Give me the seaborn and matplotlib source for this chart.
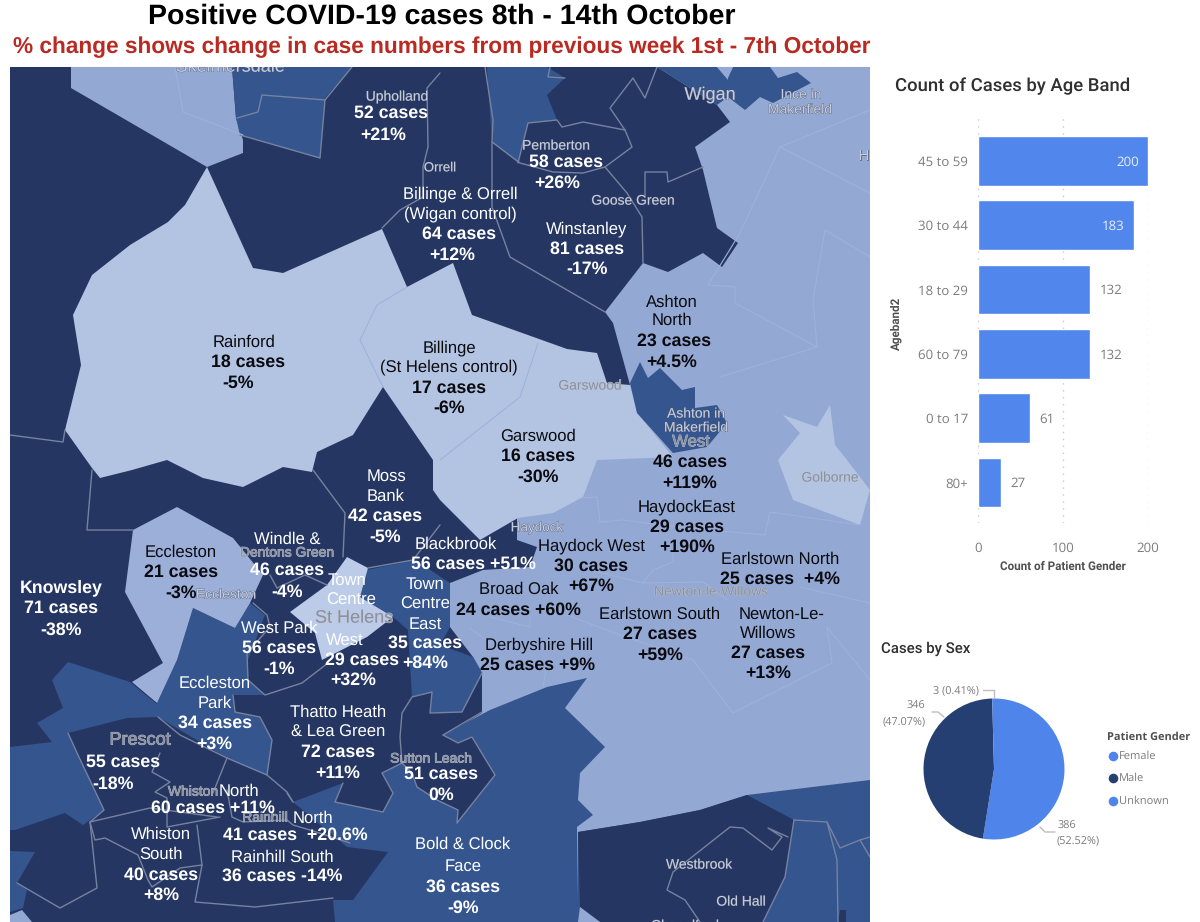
import pandas as pd
import matplotlib.pyplot as plt
import matplotlib.patheffects as pe
import seaborn as sns

# ---------- data ----------
age_bands = ['45 to 59', '30 to 44', '18 to 29', '60 to 79', '0 to 17', '80+']
age_counts = [200, 183, 132, 132, 61, 27]

sex_labels = ['Female', 'Male', 'Unknown']
sex_counts = [386, 346, 3]

# map areas, outline points (pixels)
bg_dark = [(10,67),(657,67),(717,105),(730,122),(695,147),(703,170),(717,228),(738,243),(722,267),(703,253),(668,272),
           (643,263),(605,312),(613,323),(630,385),(517,518),(517,540),(537,547),(530,567),(483,570),(450,583),(450,627),
           (473,657),(482,673),(482,713),(443,737),(440,922),(10,922)]
lightest = [(207,167),(253,268),(283,273),(382,229),(407,287),(453,263),(472,315),(567,349),(597,353),(607,383),(630,385),
            (637,413),(673,457),(597,460),(583,497),(553,513),(518,518),(480,540),(440,500),(433,490),(433,460),(383,387),
            (353,435),(317,452),(312,472),(283,467),(243,487),(203,478),(167,460),(132,470),(100,478),(92,468),(65,430),
            (81,365),(73,315),(92,275),(130,245),(168,222),(185,205)]
golborne = [(778,460),(800,433),(783,415),(817,427),(830,405),(835,445),(847,460),(870,490),(860,525),(793,500)]
town_centre = [(347,557),(368,568),(360,597),(393,617),(367,637),(322,660),(315,633),(290,612),(327,585)]
top_left = [(71,67),(232,67),(236,118),(243,140),(243,153),(207,167),(71,88)]
eccleston = [(132,682),(163,663),(125,592),(133,530),(177,507),(233,538),(263,575),(250,603),(235,628),(193,608),(177,660),(157,703)]
mid_areas = [
    [(232,67),(352,67),(325,98),(320,158),(240,135),(236,118)],
    [(487,67),(547,67),(565,78),(547,95),(557,120),(528,123),(518,163),(492,142)],
    [(657,67),(717,67),(728,80),(728,97),(717,105)],
    [(733,67),(770,67),(778,78),(797,72),(811,83),(773,103),(760,97),(745,110),(728,97),(728,78)],
    [(640,362),(648,378),(660,368),(682,390),(695,387),(695,408),(717,405),(727,423),(707,447),(673,453),(637,413),(630,383)],
    [(193,608),(235,628),(250,603),(265,615),(248,660),(248,680),(265,695),(233,695),(235,712),(260,717),(272,740),(267,775),
     (227,758),(158,717),(157,703),(177,660)],
    [(367,570),(415,560),(450,583),(450,627),(440,645),(473,657),(482,673),(462,712),(430,713),(432,692),(412,697),(408,630),(393,617),(360,597)],
    [(68,662),(130,682),(158,705),(158,717),(127,718),(68,733),(78,755),(90,780),(104,810),(83,825),(65,813),(15,830),(10,830),(10,747),(52,742),(37,723),(63,708),(52,680)],
    [(587,678),(547,687),(490,710),(443,735),(412,773),(402,763),(382,773),(393,793),(383,812),(335,802),(343,783),(293,802),(347,847),(388,852),(353,900),(333,900),(335,922),
     (578,922),(578,900),(577,827),(593,815),(578,800),(580,773),(605,747),(565,708)],
    [(578,832),(640,822),(700,810),(747,795),(870,780),(870,922),(578,922)],
    [(10,851),(35,852),(17,883),(27,890),(23,908),(10,912)],
]
dark_patches = [
    [(443,735),(458,743),(472,737),(495,775),(457,823),(458,810),(437,800),(417,787),(412,773),(402,763),(410,730)],
    [(578,832),(640,822),(700,810),(747,795),(794,820),(785,877),(763,922),(600,922),(580,907)],
    [(840,910),(846,910),(846,922),(838,922)],
]
light_patches = [[(717,67),(733,67),(727,78)], [(580,907),(600,922),(578,922)], [(22,910),(32,922),(10,922),(10,915)]]

# boundary lines
grey_lines = [
    [(10,435),(63,442),(65,430)],
    [(237,118),(258,112),(262,95),(325,100)],
    [(240,135),(320,158),(325,100),(352,67)],
    [(440,73),(427,88),(428,147),(423,167),(423,197),(400,210),(382,228)],
    [(485,67),(493,120),(492,142),(492,207),(510,257),(605,312)],
    [(492,142),(520,163),(553,172),(583,173),(605,167),(632,147),(625,130),(583,122),(562,127),(557,120),(528,123),(518,163)],
    [(605,167),(627,193),(642,217),(643,263)],
    [(645,197),(645,172),(667,172),(668,182),(703,167)],
    [(625,130),(610,108),(633,78),(645,98),(657,67)],
    [(550,67),(548,77),(565,78)],
    [(92,470),(87,530),(133,530)],
    [(313,470),(345,513),(343,557)],
    [(368,568),(413,560),(440,525)],
    [(253,603),(267,615),(270,627),(247,653),(248,680),(265,695),(302,683),(328,663)],
    [(277,588),(305,575),(327,585)],
    [(270,575),(277,588)],
    [(233,695),(235,712),(260,717),(272,740),(267,775),(287,792),(293,802)],
    [(68,733),(78,755),(104,810),(90,822),(150,808),(217,817)],
    [(158,717),(180,735),(227,758),(267,775)],
    [(227,758),(213,793)],
    [(160,753),(152,772),(170,782),(155,792),(167,798),(167,827),(220,817)],
    [(227,790),(232,817),(243,822),(287,820),(293,825),(310,830),(350,843)],
    [(287,793),(293,802)],
    [(90,822),(95,840),(105,838),(138,855),(148,880),(152,887),(180,868),(202,865)],
    [(197,825),(202,865),(195,902),(255,907),(333,898)],
    [(90,822),(97,888),(60,908),(17,883)],
    [(482,673),(462,712),(430,713),(432,692),(412,697),(402,713),(400,737),(402,763)],
    [(443,735),(482,712)],
    [(443,735),(458,743),(472,737),(495,775),(457,823),(458,810),(437,800),(417,787),(412,773),(402,763),(382,773),(393,793),(383,812),(335,802),(343,783)],
    [(794,820),(827,822),(837,860),(838,922)],
    [(794,820),(785,877),(763,922)],
    [(827,822),(840,848),(860,840),(870,837)],
    [(860,840),(870,857)],
    [(700,922),(685,900),(667,890),(673,872),(730,827),(743,828),(772,850),(782,837),(768,828),(788,837)],
]
faint_lines = [
    [(175,67),(183,112),(243,135)],
    [(870,110),(780,147),(740,233),(708,285),(735,287),(735,303),(817,347),(720,377)],
    [(780,147),(870,193)],
    [(870,257),(825,230),(813,300),(817,347)],
    [(583,498),(597,497),(600,522),(622,520),(687,528),(765,535),(770,512),(860,525)],
    [(673,553),(673,562),(653,570),(643,583),(590,570)],
    [(567,615),(620,635),(693,660),(733,713),(832,663),(827,627),(870,680)],
    [(727,600),(703,582),(643,583)],
    [(800,587),(870,603)],
    [(547,663),(543,687)],
    [(490,617),(530,627),(530,617)],
    [(470,628),(490,643)],
    [(538,343),(520,397),(440,460)],
    [(407,287),(377,305),(360,340),(383,387)],
]

# area labels: text, x, y
white_labels = [
    ('52 cases',391,112),('+21%',383,134),('Billinge & Orrell',460,193),('(Wigan control)',460,213),('64 cases',459,233),('+12%',452,254),
    ('58 cases',566,161),('+26%',557,182),('Winstanley',587,228),('81 cases',587,248),('-17%',587,268),
    ('Knowsley',61,587),('71 cases',61,607),('-38%',61,629),('Windle &',287,538),('46 cases',287,569),('-4%',287,591),
    ('Moss',386,475),('Bank',386,495),('42 cases',385,515),('-5%',385,536),
    ('Blackbrook',456,543),('56 cases +51%',473,563),
    ('Town',425,583),('Centre',425,603),('East',425,623),('35 cases',425,642),('+84%',425,662),
    ('Town',347,579),('Centre',351,599),('West',345,639),('29 cases',362,659),('+32%',353,679),
    ('West Park',279,627),('56 cases',279,647),('-1%',279,668),
    ('Eccleston',215,682),('Park',215,702),('34 cases',215,722),('+3%',214,743),
    ('Thatto Heath',338,711),('& Lea Green',338,731),('72 cases',338,751),('+11%',338,772),
    ('55 cases',123,761),('-18%',113,783),('North',239,790),('60 cases +11%',213,807),
    ('North',313,817),('41 cases  +20.6%',295,834),
    ('Whiston',161,833),('South',161,853),('40 cases',161,874),('+8%',161,894),
    ('Rainhill South',282,856),('36 cases -14%',282,875),
    ('51 cases',441,773),('0%',441,794),
    ('Bold & Clock',463,843),('Face',463,865),('36 cases',463,886),('-9%',463,907),
]
black_labels = [
    ('Rainford',244,341),('18 cases',248,361),('-5%',238,382),
    ('Billinge',449,347),('(St Helens control)',449,366),('17 cases',449,387),('-6%',449,407),
    ('Garswood',538,435),('16 cases',538,455),('-30%',538,476),
    ('Ashton',672,301),('North',672,319),('23 cases',674,340),('+4.5%',672,361),
    ('46 cases',690,461),('+119%',690,482),
    ('HaydockEast',687,506),('29 cases',687,526),('+190%',687,546),
    ('Haydock West',591,545),('30 cases',591,565),('+67%',591,585),
    ('Broad Oak',519,588),('24 cases +60%',518,609),
    ('Derbyshire Hill',539,644),('25 cases +9%',538,664),
    ('Earlstown North',780,558),('25 cases  +4%',780,578),
    ('Earlstown South',660,613),('27 cases',660,633),('+59%',660,654),
    ('Newton-Le-',782,613),('Willows',768,632),('27 cases',768,652),('+13%',768,672),
    ('Eccleston',181,551),('21 cases',181,571),('-3%',181,592),
]
# base map place names: text, x, y, size, on a light area or not
place_labels = [
    ('Skelmersdale',230,66,13,False),('Upholland',397,96,10,False),('Orrell',440,167,9.5,False),('Pemberton',556,145,10,False),
    ('Goose Green',633,200,10,False),('Wigan',710,94,13,False),('Ince in',801,94,10,False),('Makerfield',800,109,10,False),
    ('H',864,155,10,False),('Garswood',590,385,10,True),('Ashton in',696,413,10,False),('Makerfield',696,427,10,False),
    ('West',691,441,12,True),('Golborne',830,477,10,True),('Haydock',537,527,9.7,False),('Newton-le-Willows',711,591,10,True),
    ('Dentons Green',287,552,10,True),('Eccleston',226,594,10,False),('St Helens',354,617,13,True),('Prescot',140,739,13,True),
    ('Whiston',193,791,10,True),('Rainhill',265,817,10,True),('Sutton Leach',431,758,10,True),('Westbrook',699,864,10,False),
    ('Old Hall',741,901,10,False),('Chapelford',685,925,10,False),
]

# ---------- figure ----------
sns.set_theme(style='white')
plt.rcParams['font.family'] = ['Liberation Sans', 'DejaVu Sans']
plt.rcParams['text.hinting'] = 'no_hinting'

W, H = 1200, 922
fig = plt.figure(figsize=(W / 100, H / 100), dpi=100)


def px_axes(left, top, right, bottom, **kw):
    return fig.add_axes([left / W, 1 - bottom / H, (right - left) / W, (bottom - top) / H], **kw)


DARK = '#253662'
MID = '#35558f'
LIGHT = '#94a8d4'
LIGHTEST = '#b3c4e3'

fig.text(442 / W, 1 - 16 / H, 'Positive COVID-19 cases 8th - 14th October', ha='center', va='center',
         fontsize=20.5, fontweight='bold', color='black')
fig.text(442 / W, 1 - 47 / H, '% change shows change in case numbers from previous week 1st - 7th October', ha='center',
         va='center', fontsize=16.3, fontweight='bold', color='#b82a22')

# ---------- map ----------
ax_map = px_axes(10, 67, 870, 922)
ax_map.set_xlim(10, 870)
ax_map.set_ylim(922, 67)
ax_map.axis('off')
ax_map.add_patch(plt.Rectangle((10, 67), 860, 855, color=LIGHT, lw=0))


def fill_area(points, colour):
    ax_map.fill([p[0] for p in points], [p[1] for p in points], color=colour, lw=0)


fill_area(bg_dark, DARK)
fill_area(top_left, LIGHT)
fill_area(lightest, LIGHTEST)
fill_area(golborne, LIGHTEST)
for area in mid_areas:
    fill_area(area, MID)
for area in dark_patches:
    fill_area(area, DARK)
for area in light_patches:
    fill_area(area, LIGHT)
fill_area(eccleston, '#9bafd9')
fill_area(town_centre, '#bccbe8')

for line in grey_lines:
    ax_map.plot([p[0] for p in line], [p[1] for p in line], color='#76829f', lw=1)
for line in faint_lines:
    ax_map.plot([p[0] for p in line], [p[1] for p in line], color='#a0b1da', lw=0.8)

for name, x, y, size, on_light in place_labels:
    t = ax_map.text(x, y + 1, name, ha='center', va='center', fontsize=size, clip_on=True,
                    color='#8c919d' if on_light else '#c6ccd8')
    t.set_path_effects([pe.withStroke(linewidth=0.5, foreground='#c4cad8' if on_light else '#4a5575')])


def is_bold(text):
    return 'cases' in text or '%' in text or text == 'Knowsley'


for labels, colour in ((white_labels, 'white'), (black_labels, '#0a0a0f')):
    for text, x, y in labels:
        bold = is_bold(text)
        ax_map.text(x, y + 1, text, ha='center', va='center', fontsize=12.75 if bold else 12, color=colour,
                    fontweight='bold' if bold else 'normal')

# ---------- bars ----------
ax_bar = px_axes(978, 114, 1148, 523)
df_age = pd.DataFrame({'Ageband2': age_bands, 'Count': age_counts})
sns.barplot(data=df_age, y='Ageband2', x='Count', color='#5186ec', saturation=1, width=0.775, ax=ax_bar)
ax_bar.set_xlim(0, 200)
ax_bar.set_ylim(5.63, -0.728)
ax_bar.set_xticks([0, 100, 200])
sns.despine(ax=ax_bar, left=True, bottom=True, top=True, right=True)
ax_bar.grid(axis='x', color='#c8c8c8', linestyle=(0, (1, 4)), lw=1)
ax_bar.grid(axis='y', visible=False)
ax_bar.set_axisbelow(True)
ax_bar.tick_params(axis='y', length=0, labelsize=9.5, labelcolor='#7c7c7c', pad=7)
ax_bar.tick_params(axis='x', length=0, labelsize=9.5, labelcolor='#7c7c7c', pad=14)
for lab in ax_bar.get_xticklabels() + ax_bar.get_yticklabels():
    lab.set_family('Open Sans')
ax_bar.set_xlabel('Count of Patient Gender', fontsize=8.4, fontweight='bold', color='#505050', family='Roboto', labelpad=4)
ax_bar.set_ylabel('Ageband2', fontsize=8.4, fontweight='bold', color='#505050', family='Roboto')
ax_bar.yaxis.set_label_coords(-(978 - 902) / 170, 1 - (323 - 114) / 409)
for bar, count in zip(ax_bar.patches, age_counts):
    inside = count > 150
    ax_bar.annotate(str(count), (count, bar.get_y() + bar.get_height() / 2), xytext=(-6.5 if inside else 7, -1),
                    textcoords='offset points', ha='right' if inside else 'left', va='center', fontsize=9.5,
                    color='#e6eefc' if inside else '#7c7c7c', family='Open Sans')
fig.text(895 / W, 1 - 86 / H, 'Count of Cases by Age Band', fontsize=13.3, color='#303030', family='Roboto',
         fontweight='medium', va='center')

# ---------- pie ----------
ax_pie = px_axes(919, 694, 1069, 844)
ax_pie.pie(sex_counts, colors=['#4f85eb', '#253f72', '#4f85eb'], startangle=90, counterclock=False, radius=1,
           wedgeprops={'lw': 0})
ax_pie.set_xlim(-75 / 70.5, 75 / 70.5)
ax_pie.set_ylim(-75 / 70.5, 75 / 70.5)
fig.text(881 / W, 1 - 649 / H, 'Cases by Sex', fontsize=10.8, color='#303030', family='Roboto', fontweight='medium', va='center')

# leader lines, slice labels and legend
ax_over = px_axes(0, 0, W, H)
ax_over.set_xlim(0, W)
ax_over.set_ylim(H, 0)
ax_over.axis('off')
ax_over.patch.set_alpha(0)
for line in ([(983, 690), (994, 690), (994, 698)], [(932, 712), (938, 712), (944, 717)], [(1040, 827), (1045, 832), (1055, 832)]):
    ax_over.plot([p[0] for p in line], [p[1] for p in line], color='#bdbdbd', lw=1)
for text, x, y in (('3 (0.41%)', 956, 691), ('346', 916, 706), ('(47.07%)', 904, 722), ('386', 1067, 826), ('(52.52%)', 1078, 841)):
    ax_over.text(x, y, text, ha='center', va='center', fontsize=7.8, color='#7c7c7c', family='Open Sans')

ax_over.text(1107, 737, 'Patient Gender', ha='left', va='center', fontsize=7.9, fontweight='bold', color='#505050', family='Open Sans')
for name, colour, y in zip(sex_labels, ['#4f85eb', '#253f72', '#4f85eb'], [756, 778, 801]):
    ax_over.scatter([1113], [y], s=48, color=colour, lw=0)
    ax_over.text(1119, y, name, ha='left', va='center', fontsize=8.0, color='#7c7c7c', family='Open Sans')

fig.savefig('out.png', dpi=100)
